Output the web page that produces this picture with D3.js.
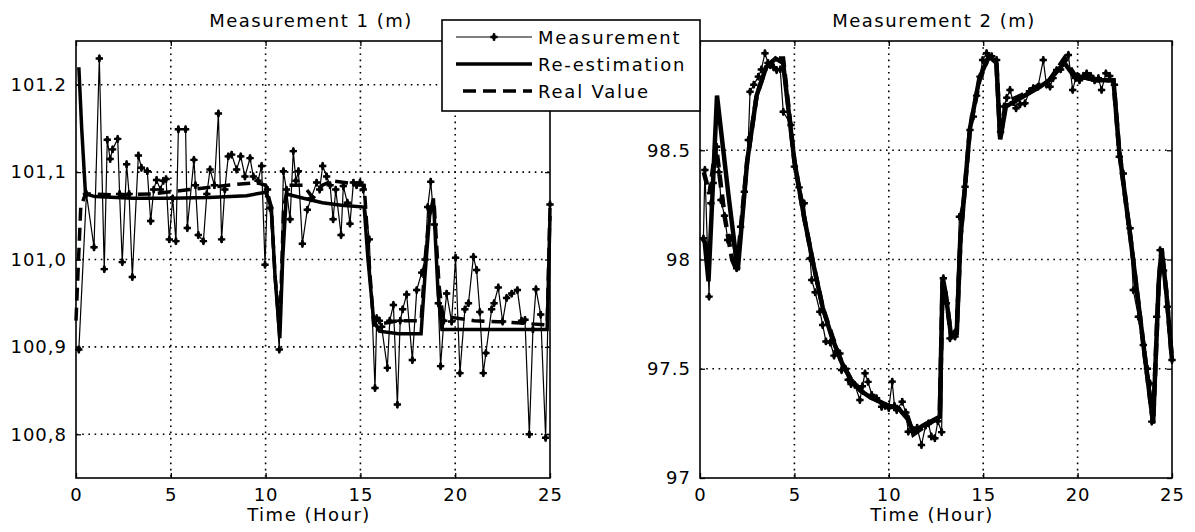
<!DOCTYPE html>
<meta charset="utf-8">
<script src="https://cdn.jsdelivr.net/npm/d3@7"></script>
<style>
  body { margin: 0; background: #fff; }
  text { font-family: "DejaVu Sans", sans-serif; font-size: 18px; fill: #000; }
</style>
<body>
<script>

// ---- data ----
var xTicks = [0, 5, 10, 15, 20, 25]

var y1Ticks = [100.8, 100.9, 101.0, 101.1, 101.2]
var y1Labels = ["100,8", "100,9", "101,0", "101,1", "101.2"]
var y2Ticks = [97, 97.5, 98, 98.5]
var y2Labels = ["97", "97.5", "98", "98.5"]

var titles = ["Measurement 1 (m)", "Measurement 2 (m)"]
var legendNames = ["Measurement", "Re-estimation", "Real Value"]

// measurement 1: [hour, value]
var meas1 = [[0.15,100.897],[0.55,101.075],[0.95,101.014],[1.23,101.23],[1.49,100.989],[1.65,101.137],[1.8,101.115],[1.93,101.126],[2.2,101.138],[2.3,101.075],[2.44,100.997],[2.67,101.109],[2.8,101.075],[2.97,100.98],[3.29,101.119],[3.45,101.105],[3.76,101.101],[3.94,101.044],[4.1,101.08],[4.25,101.091],[4.45,101.08],[4.6,101.09],[4.75,101.092],[4.92,101.023],[5.1,101.07],[5.27,101.021],[5.4,101.149],[5.78,101.149],[5.87,101.036],[6.22,101.114],[6.3,101.085],[6.45,101.028],[6.72,101.021],[6.9,101.075],[7.07,101.103],[7.3,101.085],[7.51,101.167],[7.68,101.023],[7.85,101.08],[8.03,101.118],[8.21,101.12],[8.47,101.103],[8.69,101.118],[8.91,101.095],[9.18,101.116],[9.35,101.095],[9.6,101.09],[9.79,101.107],[9.97,100.994],[10.1,101.08],[10.23,101.059],[10.72,100.897],[10.94,101.101],[11.1,101.08],[11.29,101.046],[11.46,101.124],[11.6,101.09],[11.73,101.101],[11.94,101.018],[12.2,101.057],[12.4,101.07],[12.69,101.088],[12.85,101.08],[13.01,101.107],[13.22,101.095],[13.4,101.085],[13.56,101.046],[13.7,101.08],[13.98,101.028],[14.1,101.084],[14.31,101.065],[14.45,101.041],[14.63,101.088],[14.8,101.085],[14.98,101.088],[15.15,101.08],[15.47,101.023],[15.77,100.853],[15.86,100.933],[16.0,100.93],[16.12,100.923],[16.42,100.876],[16.55,100.93],[16.74,100.948],[16.95,100.834],[17.1,100.93],[17.23,100.943],[17.44,100.96],[17.74,100.885],[17.97,100.965],[18.23,100.985],[18.41,101.0],[18.55,101.06],[18.71,101.089],[18.9,101.04],[19.11,100.95],[19.23,100.878],[19.4,100.93],[19.55,100.961],[19.81,100.929],[20.02,101.002],[20.25,100.87],[20.51,100.943],[20.7,100.95],[20.96,101.003],[21.13,100.988],[21.3,100.94],[21.48,100.87],[21.62,100.893],[21.92,100.943],[22.05,100.95],[22.27,100.968],[22.5,100.929],[22.71,100.956],[22.98,100.961],[23.28,100.965],[23.5,100.93],[23.68,100.931],[23.91,100.8],[24.1,100.92],[24.26,100.966],[24.51,100.937],[24.77,100.796],[25,101.063]]

var reest1 = [[0.15,101.22],[0.3,101.15],[0.5,101.075],[1,101.072],[3,101.07],[5,101.07],[7,101.071],[9,101.073],[10,101.077],[10.3,101.06],[10.5,100.98],[10.75,100.91],[10.9,101.0],[11.1,101.075],[12,101.07],[13,101.065],[14,101.062],[15.2,101.06],[15.4,101.0],[15.7,100.93],[16,100.918],[17,100.915],[18.2,100.915],[18.4,100.98],[18.65,101.05],[18.85,101.07],[19.1,100.96],[19.3,100.92],[20,100.92],[22,100.92],[24,100.92],[24.85,100.92],[25,101.05]]

var real1 = [[0,100.93],[0.25,101.06],[0.5,101.075],[2,101.074],[4,101.075],[6,101.08],[8,101.085],[9.5,101.088],[10,101.085],[10.3,101.06],[10.5,100.98],[10.75,100.92],[10.95,101.06],[11.2,101.085],[12,101.085],[12.5,101.07],[13,101.085],[13.5,101.09],[15.2,101.085],[15.45,101.0],[15.7,100.925],[17,100.93],[18.2,100.93],[18.45,101.01],[18.7,101.065],[18.9,101.06],[19.15,100.97],[19.35,100.935],[21,100.93],[23,100.928],[24.85,100.925],[25,101.06]]

// measurement 2
var meas2 = [[0.18,98.097],[0.26,98.41],[0.48,97.83],[0.58,98.257],[0.7,98.35],[0.88,98.516],[1.0,98.4],[1.11,98.272],[1.3,98.2],[1.47,98.089],[1.67,98.1],[1.94,97.96],[2.15,98.15],[2.35,98.31],[2.56,98.547],[2.65,98.768],[2.85,98.8],[3.09,98.837],[3.25,98.87],[3.44,98.944],[3.6,98.9],[3.71,98.89],[3.9,98.88],[4.06,98.867],[4.25,98.87],[4.41,98.676],[4.82,98.616],[5.0,98.425],[5.25,98.33],[5.52,98.257],[5.83,98.005],[5.92,97.906],[6.1,97.85],[6.35,97.761],[6.5,97.7],[6.67,97.625],[6.9,97.62],[7.1,97.56],[7.25,97.58],[7.41,97.57],[7.5,97.494],[7.7,97.5],[7.85,97.45],[8.0,97.43],[8.2,97.426],[8.47,97.357],[8.6,97.42],[8.74,97.479],[8.9,97.44],[9.1,97.38],[9.35,97.365],[9.62,97.326],[9.8,97.33],[10.0,97.32],[10.18,97.441],[10.3,97.33],[10.42,97.311],[10.71,97.349],[10.9,97.3],[11.03,97.212],[11.3,97.22],[11.5,97.23],[11.73,97.151],[11.95,97.24],[12.1,97.25],[12.25,97.19],[12.44,97.182],[12.6,97.26],[12.8,97.21],[12.89,97.914],[13.05,97.8],[13.24,97.639],[13.51,97.647],[13.74,98.196],[14.04,98.333],[14.3,98.593],[14.48,98.654],[14.65,98.75],[14.83,98.837],[14.97,98.913],[15.18,98.944],[15.45,98.93],[15.71,98.913],[15.92,98.585],[16.1,98.7],[16.25,98.74],[16.42,98.776],[16.6,98.72],[16.74,98.692],[16.95,98.71],[17.21,98.715],[17.45,98.77],[17.65,98.784],[17.9,98.79],[18.18,98.913],[18.35,98.8],[18.54,98.791],[18.7,98.83],[18.89,98.867],[19.1,98.87],[19.33,98.913],[19.51,98.936],[19.74,98.776],[19.9,98.83],[20.1,98.82],[20.3,98.84],[20.48,98.852],[20.7,98.84],[20.9,98.82],[21.1,98.83],[21.27,98.776],[21.5,98.852],[21.7,98.84],[21.95,98.8],[22.21,98.47],[22.42,98.394],[22.78,98.143],[22.95,97.86],[23.22,97.738],[23.48,97.609],[23.7,97.5],[23.84,97.433],[23.93,97.258],[24.19,97.738],[24.37,98.043],[24.55,97.95],[24.75,97.784],[25.0,97.54]]

var reest2 = [[0.1,98.1],[0.25,98.08],[0.45,97.9],[0.9,98.75],[1.5,98.3],[2.0,97.95],[2.5,98.45],[3.0,98.75],[3.5,98.88],[4.0,98.92],[4.4,98.9],[5.0,98.45],[5.5,98.2],[6.0,97.98],[6.5,97.78],[7.0,97.64],[7.5,97.53],[8.0,97.45],[8.5,97.4],[9.0,97.37],[9.5,97.35],[10.0,97.33],[10.5,97.32],[11.0,97.27],[11.3,97.21],[11.8,97.24],[12.7,97.28],[12.85,97.92],[13.0,97.85],[13.3,97.65],[13.6,97.66],[13.8,98.1],[14.3,98.6],[14.8,98.83],[15.3,98.93],[15.7,98.9],[15.9,98.55],[16.2,98.7],[17,98.74],[18,98.79],[18.5,98.82],[19.3,98.9],[19.8,98.84],[20.5,98.83],[21,98.82],[21.9,98.82],[22.2,98.5],[22.8,98.1],[23.5,97.6],[24.0,97.25],[24.3,97.9],[24.45,98.05],[24.7,97.85],[25,97.54]]

var real2 = [[0.2,98.4],[0.5,98.3],[0.85,98.52],[1.3,98.2],[1.7,98.0],[1.95,97.95],[2.5,98.45],[3.0,98.75],[3.5,98.88],[4.0,98.92],[4.4,98.92],[5.0,98.45],[5.5,98.2],[6.0,97.98],[6.5,97.78],[7.0,97.65],[7.5,97.53],[8.0,97.45],[8.5,97.4],[9.0,97.37],[9.5,97.35],[10.0,97.33],[10.5,97.32],[11.0,97.28],[11.3,97.2],[11.8,97.23],[12.7,97.28],[12.85,97.9],[13.0,97.85],[13.3,97.65],[13.6,97.68],[13.8,98.1],[14.3,98.6],[14.8,98.82],[15.3,98.93],[15.7,98.9],[15.9,98.55],[16.2,98.72],[17,98.75],[18,98.8],[18.5,98.82],[19.3,98.92],[19.8,98.85],[20.5,98.83],[21,98.82],[21.9,98.82],[22.2,98.5],[22.8,98.1],[23.5,97.6],[24.0,97.25],[24.3,97.9],[24.45,98.05],[24.7,97.85],[25,97.54]]

// ---- drawing ----
var width = 1195
var height = 532

var svg = d3.select("body").append("svg")
    .attr("width", width)
    .attr("height", height)

var marker = d3.symbol().type(d3.symbolDiamond).size(22)
var cross = d3.symbol().type(d3.symbolCross).size(30)

function panel(left, right, ydom, yTicks, yLabels, title, meas, reest, real, thick) {
  var x = d3.scaleLinear().domain([0, 25]).range([left, right])
  var y = d3.scaleLinear().domain(ydom).range([478, 41])
  var g = svg.append("g")

  // dotted grid
  g.selectAll(".gx").data(xTicks.filter(d => d > 0 && d < 25)).enter().append("line")
    .attr("x1", d => x(d)).attr("x2", d => x(d)).attr("y1", 41).attr("y2", 478)
    .attr("stroke", "#000").attr("stroke-width", 1.6).attr("stroke-dasharray", "1.6,4.6")
  g.selectAll(".gy").data(yTicks.filter(d => d > ydom[0] && d < ydom[1])).enter().append("line")
    .attr("x1", left).attr("x2", right).attr("y1", d => y(d)).attr("y2", d => y(d))
    .attr("stroke", "#000").attr("stroke-width", 1.6).attr("stroke-dasharray", "1.6,4.6")

  var line = d3.line().x(d => x(d[0])).y(d => y(d[1]))

  g.append("path").attr("d", line(real)).attr("fill", "none")
    .attr("stroke", "#000").attr("stroke-width", thick).attr("stroke-dasharray", "13,7")
  g.append("path").attr("d", line(reest)).attr("fill", "none")
    .attr("stroke", "#000").attr("stroke-width", thick)
  g.append("path").attr("d", line(meas)).attr("fill", "none")
    .attr("stroke", "#000").attr("stroke-width", 1.2)
  g.selectAll(".mk").data(meas).enter().append("path")
    .attr("d", marker).attr("transform", d => "translate(" + x(d[0]) + "," + y(d[1]) + ")")
    .attr("fill", "#000")
  g.selectAll(".mk2").data(meas).enter().append("path")
    .attr("d", cross)
    .attr("transform", d => "translate(" + x(d[0]) + "," + y(d[1]) + ")")
    .attr("fill", "#000")

  // axes, ticks inward on all sides
  var ax = [
    g.append("g").attr("transform", "translate(0,478)")
      .call(d3.axisBottom(x).tickValues(xTicks).tickSize(-5).tickPadding(10)),
    g.append("g").attr("transform", "translate(0,41)")
      .call(d3.axisTop(x).tickValues(xTicks).tickSize(-5).tickFormat("")),
    g.append("g").attr("transform", "translate(" + left + ",0)")
      .call(d3.axisLeft(y).tickValues(yTicks).tickSize(-5).tickPadding(9)
        .tickFormat((d, i) => yLabels[i])),
    g.append("g").attr("transform", "translate(" + right + ",0)")
      .call(d3.axisRight(y).tickValues(yTicks).tickSize(-5).tickFormat(""))
  ]
  ax.forEach(a => {
    a.select(".domain").remove()
    a.selectAll("line").attr("stroke", "#000").attr("stroke-width", 1.3)
    a.selectAll("text").attr("font-family", "DejaVu Sans").attr("font-size", 18)
      .attr("fill", "#000").style("letter-spacing", "1px")
  })

  g.append("rect").attr("x", left).attr("y", 41).attr("width", right - left).attr("height", 437)
    .attr("fill", "none").attr("stroke", "#000").attr("stroke-width", 1.6)

  g.append("text").attr("x", (left + right) / 2 - 2).attr("y", 27)
    .attr("text-anchor", "middle").style("letter-spacing", "1.5px").text(title)
  g.append("text").attr("x", (left + right) / 2 - 4).attr("y", 521)
    .attr("text-anchor", "middle").style("letter-spacing", "1.5px").text("Time (Hour)")
}

panel(76, 550, [100.75, 101.25], y1Ticks, y1Labels, titles[0], meas1, reest1, real1, 3.5)
panel(700, 1172, [97, 99], y2Ticks, y2Labels, titles[1], meas2, reest2, real2, 4.5)

// legend
var leg = svg.append("g")
leg.append("rect").attr("x", 442).attr("y", 20).attr("width", 258).attr("height", 91)
  .attr("fill", "#fff").attr("stroke", "#000").attr("stroke-width", 1.6)
var legY = [37, 64, 91]
leg.append("line").attr("x1", 456).attr("x2", 532).attr("y1", legY[0]).attr("y2", legY[0])
  .attr("stroke", "#000").attr("stroke-width", 1.2)
leg.append("path").attr("d", marker).attr("transform", "translate(494," + legY[0] + ")")
leg.append("path").attr("d", cross).attr("transform", "translate(494," + legY[0] + ")")
leg.append("line").attr("x1", 456).attr("x2", 532).attr("y1", legY[1]).attr("y2", legY[1])
  .attr("stroke", "#000").attr("stroke-width", 3.5)
leg.append("line").attr("x1", 463).attr("x2", 532).attr("y1", legY[2]).attr("y2", legY[2])
  .attr("stroke", "#000").attr("stroke-width", 3.5).attr("stroke-dasharray", "13,7")
leg.selectAll(".lt").data(legendNames).enter().append("text")
  .attr("x", 538).attr("y", (d, i) => legY[i] + 7)
  .style("letter-spacing", "1.8px").text(d => d)

</script>
</body>
